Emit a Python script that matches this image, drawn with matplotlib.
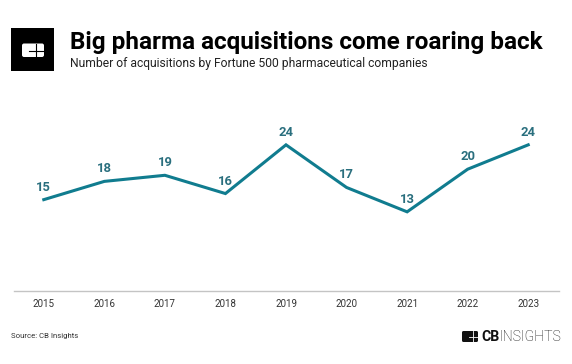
import matplotlib
matplotlib.use("Agg")
import matplotlib.pyplot as plt
from matplotlib.patches import Rectangle, FancyBboxPatch

years = [2015, 2016, 2017, 2018, 2019, 2020, 2021, 2022, 2023]
acquisitions = [15, 18, 19, 16, 24, 17, 13, 20, 24]
title = "Big pharma acquisitions come roaring back"
subtitle = "Number of acquisitions by Fortune 500 pharmaceutical companies"
source = "Source: CB Insights"

W, H = 572, 364
plt.rcParams['font.family'] = ['Roboto', 'DejaVu Sans']
fig = plt.figure(figsize=(W / 100, H / 100), dpi=100, facecolor='white')
ax = fig.add_axes([13.5 / W, 1 - 291 / H, 545 / W, 182.7 / H])
teal = '#107C8F'
ax.plot(years, acquisitions, color=teal, lw=2.2, solid_joinstyle='miter')
for x, y in zip(years, acquisitions):
    ax.annotate(str(y), (x, y), xytext=(0, 4.3), textcoords='offset points', ha='center', va='bottom',
                fontsize=9.4, fontweight='bold', color='#2A6F7E')
ax.set_xlim(2014.5, 2023.5)
ax.set_ylim(0, 30)
ax.set_yticks([])
ax.set_xticks(years)
ax.tick_params(axis='x', length=0, pad=6, labelsize=7, labelcolor='#333333')
for s in ['top', 'left', 'right']:
    ax.spines[s].set_visible(False)
ax.spines['bottom'].set_color('#c4c4c4')
ax.spines['bottom'].set_linewidth(1)

ov = fig.add_axes([0, 0, 1, 1], facecolor='none')
ov.set_xlim(0, W)
ov.set_ylim(H, 0)
ov.axis('off')
# header logo
ov.add_patch(Rectangle((11, 28), 43, 43, color='black', lw=0))
ov.add_patch(FancyBboxPatch((22, 43.5), 22, 13.5, boxstyle='round,pad=0,rounding_size=2', color='white', lw=0))
ov.plot([29, 44], [50.5, 50.5], color='black', lw=0.8)
ov.plot([36, 36], [43.5, 57], color='black', lw=0.8)
ov.text(70, 42, title, fontsize=17.5, fontweight='bold', color='black', va='center', ha='left')
ov.text(70, 63, subtitle, fontsize=8.75, color='#222222', va='center', ha='left')
ov.text(11, 336, source, fontsize=5.6, color='#333333', va='center', ha='left')
# footer logo
ov.add_patch(FancyBboxPatch((462, 331), 16, 11, boxstyle='round,pad=0,rounding_size=1.5', color='#111111', lw=0))
ov.plot([469, 478], [336.5, 336.5], color='white', lw=0.6)
ov.plot([473, 473], [331, 342], color='white', lw=0.6)
ov.text(481, 337, "CB", fontsize=10.2, fontweight='bold', color='#111111', va='center', ha='left')
ov.text(499, 337, "INSIGHTS", fontsize=10.2, fontweight='light', color='#111111', va='center', ha='left')
fig.savefig('out.png', dpi=100)
